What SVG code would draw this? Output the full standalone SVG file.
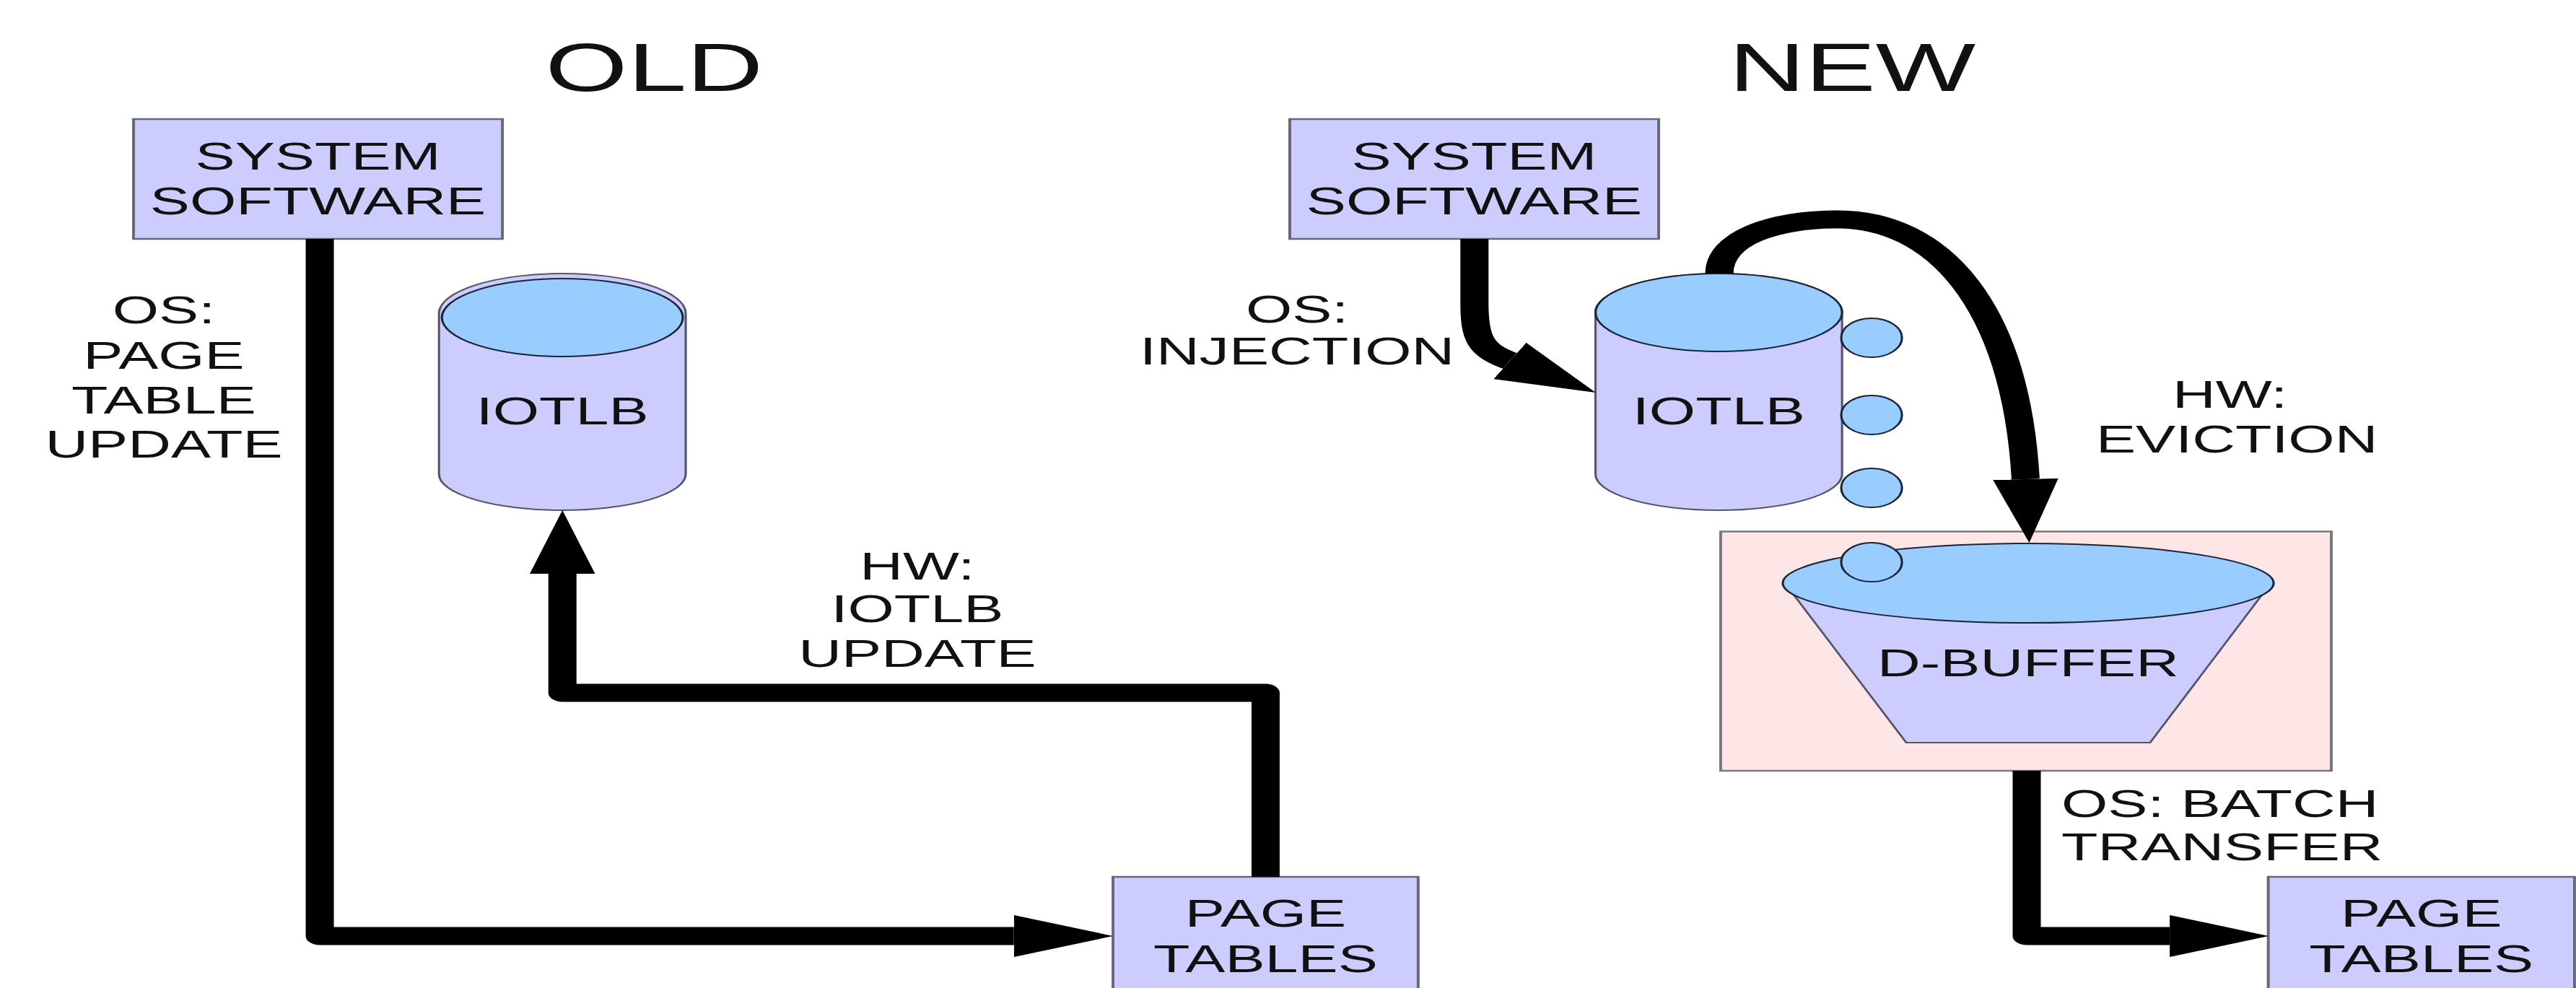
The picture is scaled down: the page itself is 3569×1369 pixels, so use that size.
<svg xmlns="http://www.w3.org/2000/svg" width="3569" height="1369" viewBox="0 0 3569 1369">
  <style>
    .lbl { font-family: "Liberation Sans", Arial, Helvetica, sans-serif; font-size: 53px; fill: #111; text-anchor: middle; }
    .start { text-anchor: start; }
    .title { font-size: 94px; }
    .box { fill: #ccccff; stroke: #66667a; stroke-width: 2.5; }
    .body { fill: #ccccff; stroke: #55556a; stroke-width: 2; }
    .lid { fill: #99ccff; stroke: #1c2438; stroke-width: 2; }
    .bub { fill: #99ccff; stroke: #1c2438; stroke-width: 2; }
    .zone { fill: #ffe6e6; stroke: #777; stroke-width: 2.5; }
    .wire { fill: none; stroke: #000; stroke-width: 25; stroke-linejoin: round; marker-end: url(#head); }
  </style>
  <defs>
    <marker id="head" markerUnits="userSpaceOnUse" viewBox="0 0 88 58" markerWidth="88" markerHeight="58" refX="0" refY="29" orient="auto">
      <path d="M0,0 L88,29 L0,58 Z" fill="#000"/>
    </marker>
  </defs>

  <rect width="3569" height="1369" fill="#fff"/>

  <!-- the whole drawing is laid out in a narrower space and stretched horizontally -->
  <g transform="scale(1.56,1)">

    <g id="titles">
      <text class="lbl title" x="581" y="126">OLD</text>
      <text class="lbl title" x="1645" y="126">NEW</text>
    </g>

    <!-- OLD scheme -->
    <g id="old-system-software">
      <rect class="box" x="118.6" y="165" width="327.6" height="166"/>
      <text class="lbl" x="282.4" y="235">SYSTEM</text>
      <text class="lbl" x="282.4" y="297">SOFTWARE</text>
    </g>

    <g id="old-iotlb">
      <path class="body" d="M389.9,434 A109.5,55 0 0 1 609,434 L609,657 A109.5,50 0 0 1 389.9,657 Z"/>
      <ellipse class="lid" cx="499.45" cy="440" rx="107" ry="54"/>
      <text class="lbl" x="499.45" y="588">IOTLB</text>
    </g>

    <g id="old-page-tables">
      <rect class="box" x="988.5" y="1215" width="271" height="175"/>
      <text class="lbl" x="1124" y="1284">PAGE</text>
      <text class="lbl" x="1124" y="1347">TABLES</text>
    </g>

    <!-- NEW scheme -->
    <g id="new-system-software">
      <rect class="box" x="1145.5" y="165" width="327.6" height="166"/>
      <text class="lbl" x="1309.3" y="235">SYSTEM</text>
      <text class="lbl" x="1309.3" y="297">SOFTWARE</text>
    </g>

    <g id="new-iotlb">
      <path class="body" d="M1417,433 A109.5,54 0 0 1 1636,433 L1636,657 A109.5,50 0 0 1 1417,657 Z"/>
      <ellipse class="lid" cx="1526.5" cy="433" rx="109.5" ry="54"/>
      <text class="lbl" x="1526.5" y="588">IOTLB</text>
    </g>

    <g id="d-buffer">
      <rect class="zone" x="1528.2" y="736.5" width="542.3" height="331.5"/>
      <polygon class="body" points="1592,822 2010,822 1909.6,1029 1693,1029"/>
      <ellipse class="lid" cx="1801.3" cy="808" rx="218" ry="55"/>
      <text class="lbl" x="1801.3" y="937">D-BUFFER</text>
    </g>

    <g id="evicted-entries">
      <circle class="bub" cx="1662.2" cy="468" r="27"/>
      <circle class="bub" cx="1662.2" cy="575" r="27"/>
      <circle class="bub" cx="1662.2" cy="676" r="27"/>
      <circle class="bub" cx="1662.2" cy="779" r="27"/>
    </g>

    <g id="new-page-tables">
      <rect class="box" x="2014.5" y="1215" width="272" height="175"/>
      <text class="lbl" x="2150.5" y="1284">PAGE</text>
      <text class="lbl" x="2150.5" y="1347">TABLES</text>
    </g>

    <!-- connectors -->
    <g id="connectors">
      <path class="wire" d="M284,331 V1297 H900.5"/>
      <path class="wire" d="M1124,1215 V960 H499.5 V795"/>
      <path class="wire" d="M1309.5,331 L1309.5,420 C1309.5,470 1315,485 1341,500"/>
      <path class="wire" d="M1527,379 C1527,330 1575,304 1632,304 C1720,304 1790,420 1799,664"/>
      <path class="wire" d="M1800,1068 V1297 H1927"/>
    </g>

    <!-- connector labels -->
    <g id="labels">
      <text class="lbl" x="145.5" y="448">OS:</text>
      <text class="lbl" x="145.5" y="511">PAGE</text>
      <text class="lbl" x="145.5" y="573">TABLE</text>
      <text class="lbl" x="145.5" y="634">UPDATE</text>

      <text class="lbl" x="814.7" y="803">HW:</text>
      <text class="lbl" x="814.7" y="862">IOTLB</text>
      <text class="lbl" x="814.7" y="924">UPDATE</text>

      <text class="lbl" x="1152" y="447">OS:</text>
      <text class="lbl" x="1152" y="505">INJECTION</text>

      <text class="lbl start" x="1929.5" y="565">HW:</text>
      <text class="lbl start" x="1861.5" y="627">EVICTION</text>

      <text class="lbl start" x="1830.8" y="1132">OS: BATCH</text>
      <text class="lbl start" x="1830.8" y="1192">TRANSFER</text>
    </g>
  </g>
</svg>
